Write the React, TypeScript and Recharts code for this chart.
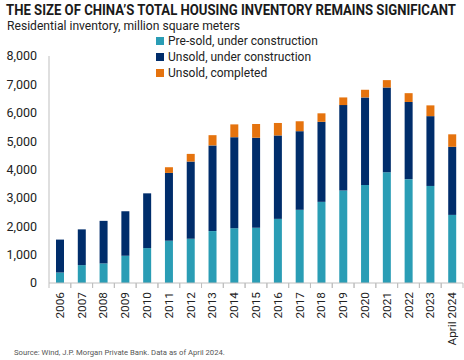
import React from "react"
import { BarChart, Bar, XAxis, YAxis, Legend } from "recharts"

const years = ["2006", "2007", "2008", "2009", "2010", "2011", "2012", "2013", "2014", "2015", "2016", "2017", "2018", "2019", "2020", "2021", "2022", "2023", "April 2024"]
const presold = [370, 630, 690, 960, 1230, 1490, 1560, 1830, 1930, 1950, 2260, 2580, 2860, 3260, 3450, 3900, 3660, 3420, 2400]
const unsoldUnderConstruction = [1160, 1260, 1500, 1570, 1930, 2390, 2720, 3020, 3210, 3170, 2940, 2770, 2820, 3010, 3090, 2990, 2720, 2460, 2400]
const unsoldCompleted = [0, 0, 0, 0, 0, 200, 270, 360, 450, 480, 440, 350, 300, 270, 270, 260, 310, 380, 440]
const yTicks = [0, 1000, 2000, 3000, 4000, 5000, 6000, 7000, 8000]

const data = years.map((year, i) => ({
  year,
  presold: presold[i],
  unsoldUc: unsoldUnderConstruction[i],
  unsoldDone: unsoldCompleted[i],
}))

const TEAL = "#2a9db5"
const NAVY = "#002d6b"
const ORANGE = "#e5730e"
const FONT = "Roboto, 'Open Sans', sans-serif"

// title is drawn wide and squeezed horizontally, like the condensed original face
const TITLE_SX = 0.726

const legendItems = [
  { label: "Pre-sold, under construction", color: TEAL },
  { label: "Unsold, under construction", color: NAVY },
  { label: "Unsold, completed", color: ORANGE },
]

function LegendBox() {
  return (
    <div style={{ fontFamily: FONT, fontSize: 12, color: "#222" }}>
      {legendItems.map((it) => (
        <div key={it.label} style={{ display: "flex", alignItems: "center", height: 16 }}>
          <span style={{ width: 8, height: 8, background: it.color, marginRight: 4, display: "inline-block" }} />
          <span>{it.label}</span>
        </div>
      ))}
    </div>
  )
}

function YearTick(props: any) {
  const { x, y, payload, width } = props
  const band = width / years.length
  return (
    <g>
      <line x1={x - band / 2} y1={y} x2={x - band / 2} y2={y + 5} stroke="#bfbfbf" />
      <line x1={x + band / 2} y1={y} x2={x + band / 2} y2={y + 5} stroke="#bfbfbf" />
      <text
        x={0}
        y={0}
        transform={`translate(${x + 4},${y + 9}) rotate(-90)`}
        textAnchor="end"
        fontSize={11.8}
        fontFamily={FONT}
        fill="#222"
      >
        {payload.value}
      </text>
    </g>
  )
}

export default function App() {
  return (
    <div style={{ position: "fixed", left: 0, top: 0, width: 464, height: 360, background: "#fff", overflow: "hidden" }}>
      <svg width={464} height={40} style={{ position: "absolute", left: 0, top: 0 }}>
        <g transform={`scale(${TITLE_SX},1)`}>
          <text x={6 / TITLE_SX} y={15.5} fontSize={15.5} fontWeight={700} fontFamily={FONT} fill="#1a1a1a" textLength={450 / TITLE_SX} lengthAdjust="spacingAndGlyphs">
            THE SIZE OF CHINA’S TOTAL HOUSING INVENTORY REMAINS SIGNIFICANT
          </text>
        </g>
        <text x={7} y={30} fontSize={12.5} fontFamily={FONT} fill="#222" textLength={233} lengthAdjust="spacingAndGlyphs">
          Residential inventory, million square meters
        </text>
      </svg>
      <div style={{ position: "absolute", left: 0, top: 0 }}>
        <BarChart width={464} height={360} data={data} margin={{ top: 56, right: 1, left: 0, bottom: 17 }}>
          <YAxis
            width={49}
            domain={[0, 8000]}
            ticks={yTicks}
            tickFormatter={(v) => Number(v).toLocaleString("en-US")}
            tickLine={false}
            tickSize={0}
            tickMargin={12}
            axisLine={{ stroke: "#bfbfbf" }}
            tick={{ fontSize: 12.5, fontFamily: FONT, fill: "#222" }}
          />
          <XAxis
            dataKey="year"
            height={60}
            interval={0}
            tickLine={false}
            tickSize={0}
            tickMargin={0}
            axisLine={{ stroke: "#bfbfbf" }}
            tick={<YearTick />}
          />
          <Legend
            layout="vertical"
            verticalAlign="middle"
            align="center"
            content={() => <LegendBox />}
            wrapperStyle={{ top: 33, left: 156, width: 200 }}
          />
          <Bar dataKey="presold" stackId="a" fill={TEAL} barSize={8} isAnimationActive={false} />
          <Bar dataKey="unsoldUc" stackId="a" fill={NAVY} barSize={8} isAnimationActive={false} />
          <Bar dataKey="unsoldDone" stackId="a" fill={ORANGE} barSize={8} isAnimationActive={false} />
        </BarChart>
      </div>
      <div style={{ position: "absolute", left: 14, top: 348, fontSize: 7.7, fontFamily: FONT, color: "#555" }}>
        Source: Wind, J.P. Morgan Private Bank. Data as of April 2024.
      </div>
    </div>
  )
}
